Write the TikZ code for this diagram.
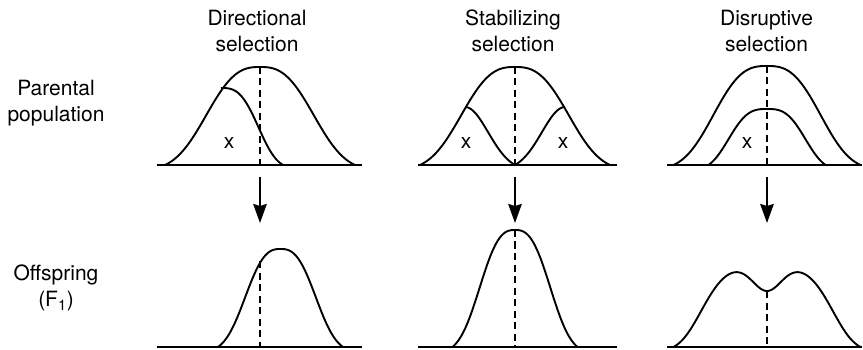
\documentclass[tikz,border=0pt]{standalone}
\usepackage{fontspec}
\setmainfont{TeX Gyre Heros}
\usetikzlibrary{arrows.meta}
\tikzset{
  lbl/.style={align=center, font=\fontsize{21}{26}\selectfont, inner sep=0pt},
  curve/.style={line width=1.9pt, line join=round},
  axis/.style={line width=1.9pt},
  mean/.style={line width=1.9pt, dash pattern=on 7pt off 4.5pt},
  arr/.style={line width=1.9pt, -{Stealth[length=19pt,width=13.5pt,inset=2pt]}},
  declare function={bell(\u,\s,\w,\p)=(exp(-pow(abs(\u/\s),\p))-exp(-pow(\w/\s,\p)))/(1-exp(-pow(\w/\s,\p)));}
}
\begin{document}
\begin{tikzpicture}[x=1pt, y=-1pt]
  \useasboundingbox (0,0) rectangle (863,350);

  \node[lbl] (tdir) at (257,31) {Directional\\selection};
  \node[lbl] (tstab) at (513,31) {Stabilizing\\selection};
  \node[lbl] (tdis) at (766.5,31) {Disruptive\\selection};
  \node[lbl] (tpar) at (56,103.2) {Parental\\population};
  \node[lbl] (toff) at (56,288.2) {Offspring\\(F\textsubscript{1})};

  % parental population
  \draw[axis] (157,165) -- (362,165);
  \draw[curve] plot[domain=-95:95, samples=100, smooth] ({260+\x},{165-98*bell(\x,64,95,2.7)});
  \draw[curve] plot[domain=0:62, samples=40, smooth] ({221+\x},{165-77*bell(\x,43,62,3)});
  \coordinate (m1a) at (260,67);
  \coordinate (m1b) at (260,165);
  \draw[mean] (m1a) -- (m1b);
  \node[lbl] (x1) at (229,142.5) {x};

  \draw[axis] (418,165) -- (617,165);
  \draw[curve] plot[domain=-95:95, samples=100, smooth] ({515+\x},{165-98*bell(\x,64,95,2.7)});
  \draw[curve] plot[domain=0:50, samples=40, smooth] ({465+\x},{165-58*bell(\x,32.7,50,2)});
  \draw[curve] plot[domain=-50:0, samples=40, smooth] ({565+\x},{165-58*bell(\x,32.7,50,2)});
  \coordinate (m2a) at (515,67);
  \coordinate (m2b) at (515,165);
  \draw[mean] (m2a) -- (m2b);
  \node[lbl] (x2) at (466,142.5) {x};
  \node[lbl] (x3) at (563,142.5) {x};

  \draw[axis] (667,165) -- (862,165);
  \draw[curve] plot[domain=-93.5:93.5, samples=100, smooth] ({767+\x},{165-99*bell(\x,63,93.5,2.8)});
  \draw[curve] plot[domain=-58.5:58.5, samples=70, smooth] ({767+\x},{165-56*bell(\x,44,58.5,3)});
  \coordinate (m3a) at (767,66);
  \coordinate (m3b) at (767,165);
  \draw[mean] (m3a) -- (m3b);
  \node[lbl] (x4) at (747,142.5) {x};

  % selection arrows
  \coordinate (a1) at (260,177);
  \coordinate (b1) at (260,223);
  \coordinate (a2) at (515,177);
  \coordinate (b2) at (515,223);
  \coordinate (a3) at (767,177);
  \coordinate (b3) at (767,223);
  \draw[arr] (a1) -- (b1);
  \draw[arr] (a2) -- (b2);
  \draw[arr] (a3) -- (b3);

  % offspring
  \draw[axis] (157,347) -- (362,347);
  \draw[curve] plot[domain=-62.5:62.5, samples=80, smooth] ({280.5+\x},{347-98*bell(\x,42,62.5,2.7)});
  \coordinate (n1a) at (260,261);
  \coordinate (n1b) at (260,347);
  \draw[mean] (n1a) -- (n1b);

  \draw[axis] (418,347) -- (617,347);
  \draw[curve] plot[domain=-62.5:62.5, samples=80, smooth] ({515+\x},{347-117*bell(\x,42,62.5,2.7)});
  \coordinate (n2a) at (515,230);
  \coordinate (n2b) at (515,347);
  \draw[mean] (n2a) -- (n2b);

  \draw[axis] (667,347) -- (862,347);
  \draw[curve] plot[domain=-93.5:93.5, samples=120, smooth] ({767+\x},{347-80*bell(\x,71,93.5,4)+24*exp(-(\x/20)^2)});
  \coordinate (n3a) at (767,291);
  \coordinate (n3b) at (767,347);
  \draw[mean] (n3a) -- (n3b);
\end{tikzpicture}
\end{document}
